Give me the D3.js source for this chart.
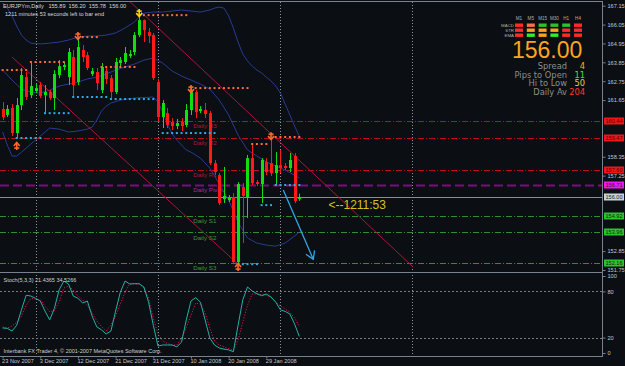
<!DOCTYPE html>
<html>
<head>
<meta charset="utf-8">
<script src="https://cdn.jsdelivr.net/npm/d3@7"></script>
<style>
  html, body { margin: 0; padding: 0; background: #0b0e12; }
  svg { display: block; font-family: "Liberation Sans", Arial, sans-serif; }
</style>
</head>
<body>
<div id="chart"></div>
<script>
// ---- daily candles, EURJPYm (bar 0 = 23 Nov 2007) ----
const barOpen = [161.13,160.78,161.19,159.73,161.36,162.99,161.94,162.18,162.53,161.94,
  162.12,161.77,163.11,163.58,162.99,164.16,162.70,164.57,164.27,163.17,
  163.28,162.23,163.34,162.93,162.12,163.81,163.87,164.22,164.45,165.44,
  166.31,165.61,165.44,162.70,160.66,160.89,160.37,160.14,160.37,160.20,
  161.07,162.12,161.01,161.07,160.89,157.98,157.28,155.88,155.82,156.00,
  152.21,156.58,156.00,158.27,156.87,156.76,158.04,157.98,157.40,157.86,
  157.81,157.69,158.39,155.89]
const barHigh = [161.54,161.36,161.42,161.77,163.52,163.28,163.81,162.58,162.70,162.53,
  162.23,163.40,163.98,163.87,164.68,164.57,165.27,164.86,164.45,163.52,
  163.52,163.81,163.58,163.11,164.10,164.16,164.74,164.57,165.61,166.55,
  166.35,165.85,165.56,162.88,161.65,161.19,160.60,160.55,160.60,161.42,
  162.35,162.23,161.30,161.48,161.01,158.16,157.40,157.75,156.12,156.23,
  156.87,156.81,158.45,159.15,156.99,158.27,158.27,159.50,158.62,158.74,
  157.98,158.56,158.56,156.20]
const barLow = [160.49,160.66,159.55,159.44,161.07,161.65,161.77,162.06,161.77,160.95,
  161.65,161.07,162.93,163.40,162.53,161.83,162.53,163.87,163.40,163.05,
  162.23,162.06,162.58,161.71,162.00,163.63,163.75,164.10,164.27,165.32,
  165.03,164.97,162.82,160.37,160.02,160.02,159.90,159.96,159.85,160.08,
  160.78,160.60,160.89,160.60,157.86,157.28,155.53,155.65,155.71,152.09,
  152.04,153.32,154.78,156.70,156.64,155.65,157.28,157.22,156.70,157.40,
  157.57,157.46,155.65,155.78]
const barClose = [160.66,161.13,159.73,161.36,163.11,161.83,162.47,162.35,161.89,162.12,
  161.77,163.17,163.63,163.69,164.45,162.53,164.74,164.16,163.52,163.34,
  162.64,163.58,162.88,162.12,163.87,163.98,164.39,164.33,165.44,166.31,
  165.73,165.38,162.93,160.66,161.48,160.20,160.14,160.31,160.14,161.07,
  162.12,160.95,161.13,160.84,157.98,157.46,155.65,156.06,156.00,152.21,
  156.76,156.06,158.27,156.81,156.76,158.16,157.46,157.40,157.86,157.69,
  157.69,158.16,155.77,156.00]

// ---- bollinger bands (read at bar index) ----
const upperIdx = [0,1,2,3,4,5,6,8,10,12,14,16,18,20,22,24,26,28,29,30,32,34,36,38,40,42,44,45,46,47,48,49,50,51,52,53,54,55,56,57,58,59,60,61,62,63]
const upperBand = [167.31,167.01,166.55,165.96,165.44,165.15,164.97,164.92,164.97,165.03,165.15,165.32,165.38,165.38,165.44,165.56,165.85,166.20,166.49,166.72,166.78,166.78,166.84,166.90,166.84,166.78,166.90,167.01,167.07,167.01,166.55,165.85,165.03,164.33,163.93,163.63,163.40,163.23,162.99,162.76,162.47,162.06,161.42,160.78,160.14,159.55]
const middleIdx = [0,2,4,6,8,10,12,14,16,18,20,22,24,26,28,30,32,34,36,38,40,42,44,46,48,50,52,54,56,58,60,62,63]
const middleBand = [163.40,162.82,162.29,162.12,162.06,162.23,162.47,162.58,162.70,162.88,162.99,163.17,163.40,163.58,163.75,163.98,164.10,163.81,163.34,163.05,162.82,162.58,162.29,161.65,160.78,159.61,158.74,158.39,158.04,157.81,157.57,157.28,157.11]
const lowerIdx = [0,1,2,3,4,5,6,8,10,12,14,16,18,19,20,21,22,23,25,28,32,33,34,35,36,37,38,39,40,42,44,46,48,50,52,54,56,58,60,62,63]
const lowerBand = [159.79,159.03,158.39,158.39,158.62,158.85,159.09,159.55,160.02,159.96,159.79,159.85,159.96,160.08,160.49,161.01,161.30,161.48,161.65,161.77,161.83,161.54,160.95,160.25,159.67,159.32,159.03,158.74,158.62,158.27,157.69,156.76,155.82,154.54,153.61,153.32,153.20,153.14,153.32,153.73,153.96]

// ---- daily pivot levels ----
const pivotNames = ["Daily R3","Daily R2","Daily R1","Daily Pivot","Daily S1","Daily S2","Daily S3"]
const pivotValues = [160.44,159.47,157.60,156.71,154.92,153.96,152.16]
const bidPrice = 156.00

// ---- fractal levels (dots) ----
const resistPrice = [163.40,163.87,165.32,163.58,166.60,162.35,159.09,159.50]
const resistFrom = [0,6,17,21,30,41,53,58]
const resistTo = [5,13,20,28,39,52,56,63]
const supportPrice = [159.44,160.89,161.83,161.71,159.73,152.09,155.53,156.70]
const supportFrom = [3,9,15,23,34,51,55,58]
const supportTo = [8,14,22,32,45,54,57,63]

// ---- fractal arrows ----
const arrowIdx = [3,16,29,40,50,57]
const arrowPrice = [158.97,165.38,166.72,162.29,151.92,159.55]
const arrowDir = ["up","down","down","down","up","down"]
const arrowColor = ["#ff6a2a","#ff6a2a","#ffd700","#ff6a2a","#ff6a2a","#ff6a2a"]

// ---- trend channel & projection arrow: [bar index, price] ----
const trendA = [[2.0,164.16],[49.8,152.14]]
const trendB = [[26.8,167.45],[87.1,151.94]]
const projArrow = [[59.6,156.41],[65.97,152.37]]

// ---- stochastic (5,3,3) ----
const stochK = [32.5,32,28.6,36,56,75,74,71,67.5,54.5,
  43,58,82,93.5,89.6,74,71,65,67.5,48,
  34,30,24.7,28.6,54.5,79,93.5,89.6,90,90,
  85.7,66,36,9,10.4,10.4,10.4,8,14,43,
  67.5,72,66,43,19.5,10.4,6.5,5,4,1.7,
  36,69,85.7,80.5,77,74.4,76.6,72.7,66,56,
  54,50.6,37.7,21.44]
const stochD = [33.8,32.5,35,40,48,62,70.8,70,69,61,
  53.6,55,66,84.4,87,82,74,69,61.7,52,
  41.6,34.4,28.6,36.4,48,63.6,79,90,90,89.6,
  84.4,71.4,45.5,24.7,15.6,12.3,10.4,10.4,19.5,33,
  49,65,63.6,52,32.5,15.6,10.4,7.8,5.8,3.9,
  16.9,40,62,76.6,76.6,76,75.3,72,66,61,
  57,53,45.5,34.53]
const stochLevels = [80, 20]
const stochTicks = [100, 80, 20, 0]

// ---- axes ----
const priceTicks = [167.15,166.05,164.95,163.85,162.75,161.65,160.55,159.45,158.35,157.25,156.15,155.05,153.95,152.85,151.75]
const dateIdx = [0,8,16,24,32,40,48,56]
const dateLabels = ["23 Nov 2007","3 Dec 2007","12 Dec 2007","21 Dec 2007","31 Dec 2007","10 Jan 2008","20 Jan 2008","29 Jan 2008"]
const gridIdx = [7,33,59,87]

// ---- signal matrix & info panel ----
const tfNames = ["M1","M5","M15","M30","H1","H4"]
const rowNames = ["MACD","STR","EMA"]
const cellColors = [
  ["#ff2a2a","#ff6e50","#2fbf2f","#2fbf2f","#2fbf2f","#ff2a2a"],
  ["#ff2a2a","#ffa020","#ffa020","#ffa020","#ff2a2a","#ff2a2a"],
  ["#ff2a2a","#2cf02c","#ffa020","#2cf02c","#ff2a2a","#ff2a2a"]]
const infoLabels = ["Spread","Pips to Open","Hi to Low","Daily Av"]
const infoValues = ["4","11","50","204"]
const infoColors = ["#f0b400","#33e633","#e8d020","#ff3a2a"]

const W = 625, H = 366
const bg = "#0b0e12"
const frame = "#76828e"
const mainTop = 2, mainBottom = 272, stochTop = 273, stochBottom = 356, axisX = 602

const svg = d3.select("#chart").append("svg").attr("width", W).attr("height", H)
svg.append("rect").attr("width", W).attr("height", H).attr("fill", bg)

const x = d3.scaleLinear().domain([0, 63]).range([2.6, 299.3])
const y = d3.scaleLinear().domain([151.75, 167.15]).range([270, 5.7])
const ys = d3.scaleLinear().domain([0, 100]).range([353, 276])

const defs = svg.append("defs")
defs.append("clipPath").attr("id", "clipMain").append("rect")
  .attr("x", 0).attr("y", mainTop).attr("width", axisX).attr("height", mainBottom - mainTop)
defs.append("clipPath").attr("id", "clipStoch").append("rect")
  .attr("x", 0).attr("y", stochTop).attr("width", axisX).attr("height", stochBottom - stochTop)

// vertical grid
svg.selectAll("line.vgrid").data(gridIdx).enter().append("line")
  .attr("class", "vgrid")
  .attr("x1", (d) => Math.round(x(d)) + 0.5).attr("x2", (d) => Math.round(x(d)) + 0.5)
  .attr("y1", mainTop).attr("y2", stochBottom)
  .attr("stroke", "#8a949e").attr("stroke-dasharray", "1,2")

const main = svg.append("g").attr("clip-path", "url(#clipMain)")

// pivot lines
const pivotColor = (i) => (i < 3 ? "#b8101e" : i === 3 ? "#7e0c80" : "#2f8f2f")
main.selectAll("line.pivot").data(pivotValues).enter().append("line")
  .attr("x1", 0).attr("x2", axisX)
  .attr("y1", (d) => Math.round(y(d)) + 0.5).attr("y2", (d) => Math.round(y(d)) + 0.5)
  .attr("stroke", (d, i) => pivotColor(i))
  .attr("stroke-width", (d, i) => (i === 3 ? 2 : 1))
  .attr("stroke-dasharray", (d, i) => (i === 3 ? "9,4" : "6,2,1,2"))

main.selectAll("text.pivot").data(pivotValues).enter().append("text")
  .attr("x", x(40.5)).attr("y", (d) => y(d) + 7.5)
  .attr("font-size", 6.2)
  .attr("fill", (d, i) => (i < 3 ? "#b8143a" : i === 3 ? "#b026b0" : "#3c9a3c"))
  .text((d, i) => pivotNames[i])

// bid line
main.append("line").attr("x1", 0).attr("x2", axisX)
  .attr("y1", Math.round(y(bidPrice)) + 0.5).attr("y2", Math.round(y(bidPrice)) + 0.5)
  .attr("stroke", "#8c8c8c")

// bollinger bands
const bandLine = (idx) => d3.line().x((d, i) => x(idx[i])).y((d) => y(d))
;[[upperIdx, upperBand], [middleIdx, middleBand], [lowerIdx, lowerBand]].forEach(([idx, vals]) => {
  main.append("path").datum(vals)
    .attr("d", bandLine(idx)).attr("fill", "none")
    .attr("stroke", "#2a3a92").attr("stroke-width", 1)
})

// trend channel
;[trendA, trendB].forEach((t) => {
  main.append("line")
    .attr("x1", x(t[0][0])).attr("y1", y(t[0][1]))
    .attr("x2", x(t[1][0])).attr("y2", y(t[1][1]))
    .attr("stroke", "#b0123e").attr("stroke-width", 1)
})

// candles
const bars = d3.range(barOpen.length)
main.selectAll("line.wick").data(bars).enter().append("line")
  .attr("x1", (i) => Math.round(x(i)) + 0.5).attr("x2", (i) => Math.round(x(i)) + 0.5)
  .attr("y1", (i) => y(barHigh[i])).attr("y2", (i) => y(barLow[i]))
  .attr("stroke", (i) => (barClose[i] >= barOpen[i] ? "#10e010" : "#ff1a1a"))
main.selectAll("rect.body").data(bars).enter().append("rect")
  .attr("x", (i) => Math.round(x(i)) - 1)
  .attr("width", 3)
  .attr("y", (i) => y(Math.max(barOpen[i], barClose[i])))
  .attr("height", (i) => Math.max(1, Math.abs(y(barOpen[i]) - y(barClose[i]))))
  .attr("fill", (i) => (barClose[i] >= barOpen[i] ? "#10e010" : "#ff1a1a"))

// fractal level dots
const dotRows = (prices, from, to, color) => {
  prices.forEach((p, k) => {
    main.selectAll(null).data(d3.range(from[k], to[k] + 1)).enter().append("rect")
      .attr("x", (i) => x(i) - 1).attr("y", y(p) - 1)
      .attr("width", 2).attr("height", 2).attr("fill", color)
  })
}
dotRows(resistPrice, resistFrom, resistTo, "#ff6a3a")
dotRows(supportPrice, supportFrom, supportTo, "#2aaee8")

// fractal arrows
arrowIdx.forEach((bi, k) => {
  const cx = x(bi), cy = y(arrowPrice[k]), s = arrowDir[k] === "down" ? 1 : -1
  const g = main.append("g").attr("stroke", arrowColor[k]).attr("stroke-width", 1.6).attr("fill", "none")
  g.append("line").attr("x1", cx).attr("x2", cx).attr("y1", cy - 4 * s).attr("y2", cy + 3 * s)
  g.append("path").attr("d", `M${cx - 3},${cy} L${cx},${cy + 3.5 * s} L${cx + 3},${cy}`)
  g.append("line").attr("x1", cx - 2.5).attr("x2", cx + 2.5).attr("y1", cy - 2 * s).attr("y2", cy - 2 * s)
})

// projection arrow
const pa0 = [x(projArrow[0][0]), y(projArrow[0][1])]
const pa1 = [x(projArrow[1][0]), y(projArrow[1][1])]
const ang = Math.atan2(pa1[1] - pa0[1], pa1[0] - pa0[0])
const headPt = (da) => [pa1[0] - 9 * Math.cos(ang + da), pa1[1] - 9 * Math.sin(ang + da)]
main.append("path")
  .attr("d", `M${pa0} L${pa1} M${headPt(0.55)} L${pa1} L${headPt(-0.55)}`)
  .attr("fill", "none").attr("stroke", "#33a4e4").attr("stroke-width", 1.3)

// countdown text
main.append("text").attr("x", x(69.2)).attr("y", y(bidPrice) + 11.5)
  .attr("font-size", 12).attr("fill", "#d9c21e").text("<--1211:53")

// header text
svg.append("text").attr("x", 3).attr("y", 8).attr("font-size", 5.6).attr("fill", "#d8d8d8")
  .style("white-space", "pre").text("EURJPYm,Daily   155.89  156.20  155.78  156.00")
svg.append("text").attr("x", 5).attr("y", 15.5).attr("font-size", 5.6).attr("fill", "#d8d8d8")
  .text("1211 minutes 53 seconds left to bar end")

// signal matrix
const cx0 = 519, cdx = 11.8
svg.selectAll("text.tf").data(tfNames).enter().append("text")
  .attr("x", (d, i) => cx0 + i * cdx).attr("y", 19.5).attr("text-anchor", "middle")
  .attr("font-size", 4.6).attr("fill", "#b0b0b0").text((d) => d)
svg.selectAll("text.row").data(rowNames).enter().append("text")
  .attr("x", 514).attr("y", (d, r) => 26.6 + r * 5).attr("text-anchor", "end")
  .attr("font-size", 4.4).attr("fill", "#b0b0b0").text((d) => d)
cellColors.forEach((row, r) => {
  svg.selectAll(null).data(row).enter().append("rect")
    .attr("x", (d, i) => cx0 + i * cdx - 4).attr("y", 23.5 + r * 5)
    .attr("width", 8).attr("height", 3.4).attr("fill", (d) => d)
})

svg.append("text").attr("x", 512).attr("y", 57.5).attr("font-size", 23)
  .attr("fill", "#ffa41e").text("156.00")

svg.selectAll("text.info").data(infoLabels).enter().append("text")
  .attr("x", 567).attr("y", (d, i) => 69 + i * 8.55).attr("text-anchor", "end")
  .attr("font-family", "DejaVu Sans").attr("font-size", 8.3).attr("fill", "#8e8e8e").text((d) => d)
svg.selectAll("text.infov").data(infoValues).enter().append("text")
  .attr("x", 585).attr("y", (d, i) => 69 + i * 8.55).attr("text-anchor", "end")
  .attr("font-family", "DejaVu Sans").attr("font-size", 8.3).attr("fill", (d, i) => infoColors[i]).text((d) => d)

// stochastic panel
const stoch = svg.append("g").attr("clip-path", "url(#clipStoch)")
stoch.selectAll("line.lvl").data(stochLevels).enter().append("line")
  .attr("x1", 0).attr("x2", axisX)
  .attr("y1", (d) => Math.round(ys(d)) + 0.5).attr("y2", (d) => Math.round(ys(d)) + 0.5)
  .attr("stroke", "#7c7c7c").attr("stroke-dasharray", "2,2")
stoch.append("path").datum(stochD)
  .attr("d", d3.line().x((d, i) => x(i)).y((d) => ys(d)))
  .attr("fill", "none").attr("stroke", "#e0144a").attr("stroke-dasharray", "1.2,1.6")
stoch.append("path").datum(stochK)
  .attr("d", d3.line().x((d, i) => x(i)).y((d) => ys(d)))
  .attr("fill", "none").attr("stroke", "#22b2a8").attr("stroke-width", 1)
svg.append("text").attr("x", 3.5).attr("y", 282).attr("font-size", 5.5).attr("fill", "#d0d0d0")
  .text("Stoch(5,3,3) 21.4365 34.5266")
svg.append("text").attr("x", 3.5).attr("y", 353).attr("font-size", 5.5).attr("fill", "#d0d0d0")
  .text("Interbank FX Trader 4, \u00a9 2001-2007 MetaQuotes Software Corp.")

// frames
svg.append("line").attr("x1", 0).attr("x2", axisX).attr("y1", 1.5).attr("y2", 1.5).attr("stroke", frame)
svg.append("line").attr("x1", 0).attr("x2", axisX).attr("y1", mainBottom + 0.5).attr("y2", mainBottom + 0.5).attr("stroke", frame)

// price axis: labels that sit under a level box are covered, as in the terminal
const boxVals = pivotValues.concat([bidPrice])
const shownTicks = priceTicks.filter((t) => boxVals.every((b) => Math.abs(y(t) - y(b)) > 3))
const yAxis = svg.append("g").attr("transform", `translate(${axisX + 0.5},0)`)
  .call(d3.axisRight(y).tickValues(shownTicks).tickSize(3).tickPadding(2).tickFormat(d3.format(".2f")))
yAxis.select(".domain").remove()
yAxis.selectAll("line").attr("stroke", frame)
yAxis.selectAll("text").attr("font-size", 5.6).attr("fill", "#c4c8cc").attr("font-family", "Liberation Sans, Arial")

// level boxes on price axis
const boxFill = (i) => (i < 3 ? "#ee1616" : i === 3 ? "#f018f0" : i < 7 ? "#2cc42c" : "#c9d3dc")
const boxes = svg.selectAll("g.box").data(boxVals).enter().append("g")
  .attr("transform", (d) => `translate(${axisX + 2},${Math.round(y(d)) - 3.5})`)
boxes.append("rect").attr("width", 20).attr("height", 7).attr("fill", (d, i) => boxFill(i))
boxes.append("text").attr("x", 10).attr("y", 5.4).attr("text-anchor", "middle")
  .attr("font-size", 5.6).attr("fill", (d, i) => (i < 3 ? "#5a0000" : "#1a1a1a"))
  .text((d) => d.toFixed(2))

// stochastic axis
const sAxis = svg.append("g").attr("transform", `translate(${axisX + 0.5},0)`)
  .call(d3.axisRight(ys).tickValues(stochTicks).tickSize(3).tickPadding(2).tickFormat(d3.format("d")))
sAxis.select(".domain").remove()
sAxis.selectAll("line").attr("stroke", frame)
sAxis.selectAll("text").attr("font-size", 5.6).attr("fill", "#c4c8cc").attr("font-family", "Liberation Sans, Arial")

svg.append("line").attr("x1", axisX + 0.5).attr("x2", axisX + 0.5).attr("y1", 1).attr("y2", stochBottom + 1)
  .attr("stroke", frame)

// time axis
const xAxis = svg.append("g").attr("transform", `translate(0,${stochBottom + 0.5})`)
  .call(d3.axisBottom(x).tickValues(dateIdx).tickSize(2).tickPadding(1).tickFormat((d, i) => dateLabels[i]))
xAxis.select(".domain").attr("d", `M0,0H${axisX + 0.5}`).attr("stroke", frame)
xAxis.selectAll("line").attr("stroke", frame)
xAxis.selectAll("text").attr("text-anchor", "start").attr("dx", -1)
  .attr("font-size", 5.6).attr("fill", "#c4c8cc").attr("font-family", "Liberation Sans, Arial")
</script>
</body>
</html>
